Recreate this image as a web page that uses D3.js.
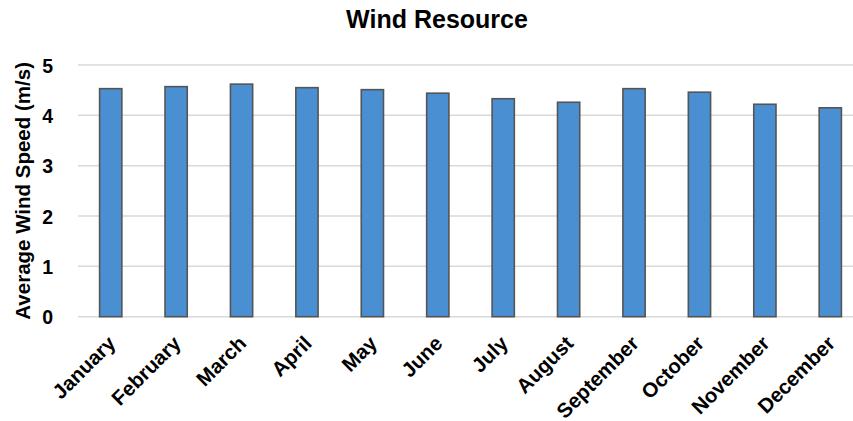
<!DOCTYPE html>
<html>
<head>
<meta charset="utf-8">
<script src="https://cdn.jsdelivr.net/npm/d3@7"></script>
<style>
  body { margin: 0; background: #fff; }
  text { font-family: "Liberation Sans", Arial, sans-serif; font-weight: bold; fill: #000; }
</style>
</head>
<body>
<div id="chart"></div>
<script>
// Monthly average wind speed (m/s)
const months = ["January", "February", "March", "April", "May", "June",
  "July", "August", "September", "October", "November", "December"];
const speeds = [4.53, 4.57, 4.62, 4.55, 4.51, 4.44, 4.33, 4.26, 4.53, 4.46, 4.22, 4.15];
const yTicks = [0, 1, 2, 3, 4, 5];

const drawChart = function () {
  let svg = d3.select("#chart").append("svg")
    .attr("width", 853)
    .attr("height", 421);

  // plot area edges (right side runs past the picture edge like the original)
  let left = 78, right = 863, top = 65, bottom = 316.7;

  let x = d3.scaleBand().domain(months).range([left, right])
    .paddingInner(0.66).paddingOuter(0.33);
  let y = d3.scaleLinear().domain([0, 5]).range([bottom, top]);

  // gridlines
  svg.append("g").selectAll("line").data(yTicks).join("line")
    .attr("x1", left).attr("x2", right)
    .attr("y1", d => y(d)).attr("y2", d => y(d))
    .attr("stroke", "#d9d9d9")
    .attr("stroke-width", 1.5);

  // bars
  svg.append("g").selectAll("rect").data(speeds).join("rect")
    .attr("x", (d, i) => x(months[i]))
    .attr("y", d => y(d))
    .attr("width", x.bandwidth())
    .attr("height", d => y(0) - y(d))
    .attr("fill", "#4a8fd2")
    .attr("stroke", "#555")
    .attr("stroke-width", 1.6);

  // y axis labels
  let yAxis = svg.append("g")
    .attr("transform", "translate(" + (left - 25) + ",0)")
    .call(d3.axisLeft(y).tickValues(yTicks).tickFormat(d3.format("d"))
      .tickSize(0).tickPadding(0));
  yAxis.select(".domain").remove();
  yAxis.selectAll("text")
    .attr("x", 0)
    .attr("dy", "0.36em")
    .style("font-size", "19.5px");

  // x axis labels, rotated
  let xAxis = svg.append("g")
    .attr("transform", "translate(0," + bottom + ")")
    .call(d3.axisBottom(x).tickSize(0).tickPadding(0));
  xAxis.select(".domain").remove();
  xAxis.selectAll("text")
    .attr("text-anchor", "end")
    .attr("y", 0)
    .attr("dy", 0)
    .attr("transform", "translate(6,28) rotate(-45)")
    .style("font-size", "20.5px");

  // y axis title
  svg.append("text")
    .attr("transform", "translate(30," + ((top + bottom) / 2) + ") rotate(-90)")
    .attr("text-anchor", "middle")
    .style("font-size", "20.5px")
    .text("Average Wind Speed (m/s)");

  // title
  svg.append("text")
    .attr("x", 437)
    .attr("y", 28)
    .attr("text-anchor", "middle")
    .style("font-size", "25px")
    .text("Wind Resource");
}
drawChart();
</script>
</body>
</html>
